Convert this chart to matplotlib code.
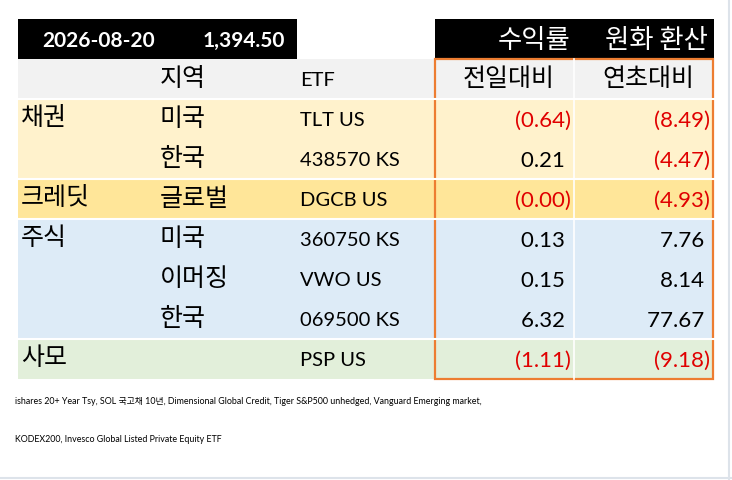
import matplotlib.pyplot as plt
from matplotlib.patches import Rectangle

plt.rcParams['font.family'] = ['Lato', 'Noto Sans CJK KR', 'DejaVu Sans']

# 데이터
date_str = '2026-08-20'
fx_rate = '1,394.50'
categories = ['채권', '', '크레딧', '주식', '', '', '사모']
regions = ['미국', '한국', '글로벌', '미국', '이머징', '한국', '']
etfs = ['TLT US', '438570 KS', 'DGCB US', '360750 KS', 'VWO US', '069500 KS', 'PSP US']
daily = [-0.64, 0.21, -0.00, 0.13, 0.15, 6.32, -1.11]
ytd = [-8.49, -4.47, -4.93, 7.76, 8.14, 77.67, -9.18]
daily_neg = [True, False, True, False, False, False, True]
ytd_neg = [True, True, True, False, False, False, True]
row_colors = ['#fff2cc', '#fff2cc', '#ffe699', '#ddebf7', '#ddebf7', '#ddebf7', '#e2efda']
group_start = [True, False, True, True, False, False, True]
footnote1 = 'ishares 20+ Year Tsy, SOL 국고채 10년, Dimensional Global Credit, Tiger S&P500 unhedged, Vanguard Emerging market,'
footnote2 = 'KODEX200, Invesco Global Listed Private Equity ETF'

fig = plt.figure(figsize=(7.32, 4.81), dpi=100)
ax = fig.add_axes([0, 0, 1, 1])
ax.set_xlim(0, 732)
ax.set_ylim(481, 0)
ax.axis('off')

KO = 18     # 한글
ETF_FS = 14.5
NUM = 16
RED = '#e00000'
KFAM = ['Noto Sans CJK KR', 'DejaVu Sans']

def fmt(v, neg):
    if neg:
        return '(%.2f)' % abs(v)
    return '%.2f ' % v

# 상단 검정 박스
ax.add_patch(Rectangle((18, 20), 279, 40, color='black', lw=0))
ax.add_patch(Rectangle((435, 20), 279, 40, color='black', lw=0))
ax.text(99, 41, date_str, color='white', fontsize=15, fontweight='bold', ha='center', va='center')
ax.text(285, 41, fx_rate, color='white', fontsize=15, fontweight='bold', ha='right', va='center')
ax.text(570, 40, '수익률', color='white', fontsize=19, ha='right', va='center', family=KFAM)
ax.text(708, 40, '원화 환산', color='white', fontsize=19, ha='right', va='center', family=KFAM)

# 헤더 행
ax.add_patch(Rectangle((18, 60), 696, 40, color='#f2f2f2', lw=0))
ax.text(160, 79, '지역', fontsize=KO, va='center', family=KFAM, fontweight='light')
ax.text(300, 81, 'ETF', fontsize=ETF_FS, va='center')
ax.text(509, 79, '전일대비', fontsize=KO, ha='center', va='center', family=KFAM, fontweight='light')
ax.text(648, 79, '연초대비', fontsize=KO, ha='center', va='center', family=KFAM, fontweight='light')

row_h = 40
top = 100
for i in range(len(etfs)):
    y = top + i * row_h
    ax.add_patch(Rectangle((18, y), 696, row_h, color=row_colors[i], lw=0))
    if group_start[i]:
        ax.plot([18, 714], [y, y], color='white', lw=1.5)
    cy = y + row_h / 2
    if categories[i]:
        ax.text(21, cy - 2, categories[i], fontsize=KO, va='center', family=KFAM, fontweight='light')
    if regions[i]:
        ax.text(160, cy - 1, regions[i], fontsize=KO, va='center', family=KFAM, fontweight='light')
    ax.text(300, cy + 1, etfs[i], fontsize=ETF_FS, va='center')
    ax.text(571, cy + 1, fmt(daily[i], daily_neg[i]), fontsize=NUM, ha='right', va='center',
            color=RED if daily_neg[i] else 'black')
    ax.text(710, cy + 1, fmt(ytd[i], ytd_neg[i]), fontsize=NUM, ha='right', va='center',
            color=RED if ytd_neg[i] else 'black')

# 세로 구분선 및 주황 테두리
ax.plot([574, 574], [60, 380], color='white', lw=1.2)
ax.add_patch(Rectangle((435, 60), 278, 320, fill=False, edgecolor='#ed7d31', lw=1.6))

# 각주
ax.text(15, 402, footnote1, fontsize=6.4, va='center')
ax.text(15, 440, footnote2, fontsize=6.4, va='center')

# 바깥 테두리
ax.plot([729, 729], [0, 481], color='#dde3ea', lw=1.5)
ax.plot([0, 732], [479, 479], color='#dde3ea', lw=1.5)

fig.savefig('out.png', dpi=100)
